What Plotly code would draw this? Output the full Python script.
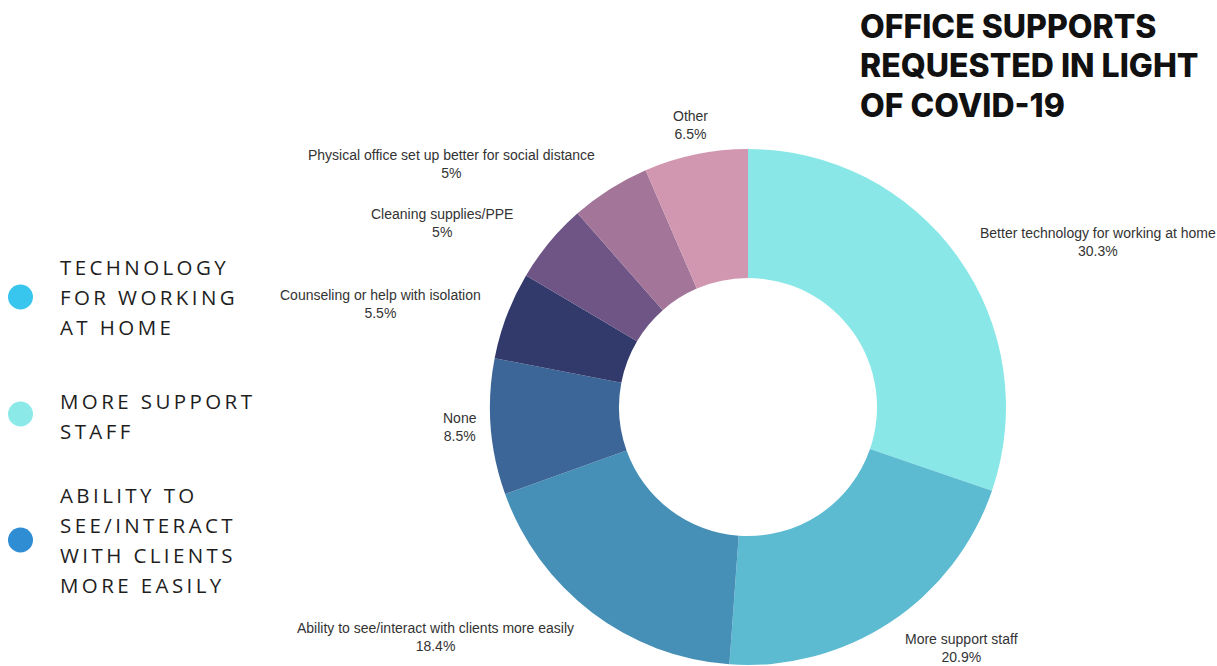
import plotly.graph_objects as go

# Survey results: office supports requested in light of COVID-19
categories = [
    "Better technology for working at home",
    "More support staff",
    "Ability to see/interact with clients more easily",
    "None",
    "Counseling or help with isolation",
    "Cleaning supplies/PPE",
    "Physical office set up better for social distance",
    "Other",
]
shares = [30.3, 20.9, 18.4, 8.5, 5.5, 5, 5, 6.5]
slice_colors = ["#89E8E7", "#5DBBD1", "#4690B8", "#3C6697",
                "#323A6B", "#6E5585", "#A37699", "#D297B0"]

# Highlighted groups shown on the left
highlight_lines = [
    ["TECHNOLOGY", "FOR WORKING", "AT HOME"],
    ["MORE SUPPORT", "STAFF"],
    ["ABILITY TO", "SEE/INTERACT", "WITH CLIENTS", "MORE EASILY"],
]
highlight_colors = ["#38C6EE", "#8BE9E8", "#2E8DD3"]

title_lines = ["OFFICE SUPPORTS", "REQUESTED IN LIGHT", "OF COVID-19"]

W, H = 1217, 666

# label anchor points (pixel centres) for each slice label
label_px = [(1098, 242), (961, 648), (435, 637), (460, 427),
            (380, 304), (442, 223), (452, 164), (690, 125)]


def px(x, y):
    return x / W, 1 - y / H


def spaced(text, gap="\u2009"):
    return gap.join(text)


cx, cy, r = 748, 407, 258
fig = go.Figure(go.Pie(
    labels=categories,
    values=shares,
    hole=0.5,
    sort=False,
    direction="clockwise",
    rotation=0,
    marker=dict(colors=slice_colors, line=dict(width=0)),
    textinfo="none",
    hoverinfo="label+percent",
    showlegend=False,
    domain=dict(x=[(cx - r) / W, (cx + r) / W],
                y=[1 - (cy + r) / H, 1 - (cy - r) / H]),
))

annotations = []
for name, val, (lx, ly) in zip(categories, shares, label_px):
    x, y = px(lx, ly)
    annotations.append(dict(
        x=x, y=y, xref="paper", yref="paper", xanchor="center", yanchor="middle",
        text=f"{name}<br>{val:g}%", showarrow=False, align="center",
        font=dict(family="Liberation Sans, Arial, sans-serif", size=14, color="#333333"),
    ))

# title, one annotation per line for tight leading
for i, line in enumerate(title_lines):
    x, y = px(858, 26 + i * 40)
    annotations.append(dict(
        x=x, y=y, xref="paper", yref="paper", xanchor="left", yanchor="middle",
        text=line, showarrow=False,
        font=dict(family="Inter, sans-serif", size=32, color="#111111", weight=800),
    ))

# left-hand highlight list with coloured dots
shapes = []
group_top = [267, 401, 495]
dot_y = [297, 414, 540]
for lines, col, top, dy in zip(highlight_lines, highlight_colors, group_top, dot_y):
    for j, line in enumerate(lines):
        x, y = px(58, top + j * 30)
        annotations.append(dict(
            x=x, y=y, xref="paper", yref="paper", xanchor="left", yanchor="middle",
            text=spaced(line), showarrow=False,
            font=dict(family="Open Sans, sans-serif", size=20.5, color="#1E1E1E"),
        ))
    x0, y0 = px(8, dy - 12.5)
    x1, y1 = px(33, dy + 12.5)
    shapes.append(dict(type="circle", xref="paper", yref="paper",
                       x0=x0, x1=x1, y0=y1, y1=y0,
                       fillcolor=col, line=dict(width=0)))

fig.update_layout(
    width=W, height=H,
    margin=dict(l=0, r=0, t=0, b=0),
    paper_bgcolor="white", plot_bgcolor="white",
    annotations=annotations,
    shapes=shapes,
)

fig.write_html("out.html")
